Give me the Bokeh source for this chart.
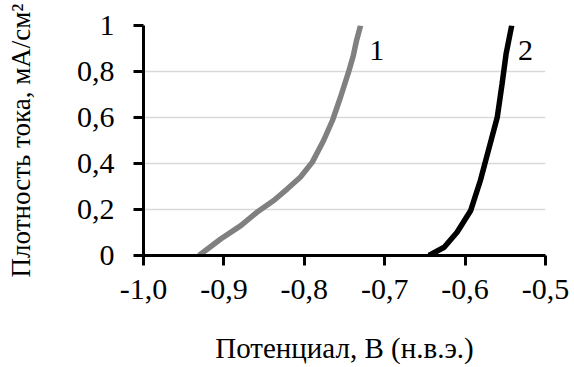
from bokeh.plotting import figure
from bokeh.models import FixedTicker, Range1d, Label
from bokeh.embed import file_html
from bokeh.resources import INLINE

# Curve 1 (grey)
v1 = [-0.931, -0.904, -0.879, -0.859, -0.838, -0.821, -0.805, -0.790, -0.776, -0.765, -0.755, -0.745, -0.739, -0.735, -0.730]
j1 = [0.0, 0.072, 0.130, 0.188, 0.239, 0.290, 0.340, 0.406, 0.500, 0.587, 0.688, 0.797, 0.870, 0.935, 1.0]
# Curve 2 (black)
v2 = [-0.645, -0.626, -0.610, -0.593, -0.581, -0.571, -0.560, -0.554, -0.549, -0.542]
j2 = [0.0, 0.036, 0.101, 0.196, 0.326, 0.457, 0.601, 0.746, 0.877, 1.0]

x_ticks = [-1.0, -0.9, -0.8, -0.7, -0.6, -0.5]
x_tick_labels = ["-1,0", "-0,9", "-0,8", "-0,7", "-0,6", "-0,5"]
y_ticks = [0.0, 0.2, 0.4, 0.6, 0.8, 1.0]
y_tick_labels = ["0", "0,2", "0,4", "0,6", "0,8", "1"]

curve_labels = ["1", "2"]
curve_label_x = [-0.71, -0.525]
curve_label_y = [0.89, 0.89]

x_title = "Потенциал, В (н.в.э.)"
y_title = "Плотность тока, мА/см²"

FONT = "Liberation Serif"

p = figure(width=574, height=367, output_backend="svg", toolbar_location=None,
           x_range=Range1d(-1.0, -0.5), y_range=Range1d(0, 1))
p.min_border_left = 143
p.min_border_right = 29
p.min_border_top = 25
p.min_border_bottom = 112
p.outline_line_color = None
p.background_fill_color = "white"
p.border_fill_color = "white"

p.xgrid.grid_line_color = None
p.ygrid.grid_line_color = "#d9d9d9"
p.ygrid.grid_line_width = 1.5

p.xaxis.ticker = FixedTicker(ticks=x_ticks)
p.yaxis.ticker = FixedTicker(ticks=y_ticks)
p.xaxis.major_label_overrides = dict(zip(x_ticks, x_tick_labels))
p.yaxis.major_label_overrides = dict(zip(y_ticks, y_tick_labels))

for ax in (p.xaxis, p.yaxis):
    ax.axis_line_width = 3
    ax.axis_line_color = "black"
    ax.major_tick_line_width = 3
    ax.major_tick_line_color = "black"
    ax.major_tick_in = 0
    ax.major_tick_out = 10
    ax.minor_tick_line_color = None
    ax.major_label_text_font = FONT
    ax.major_label_text_font_size = "30px"
    ax.major_label_text_color = "black"
    ax.axis_label_text_font = FONT
    ax.axis_label_text_font_style = "normal"
    ax.axis_label_text_color = "black"

p.xaxis.axis_label_text_font_size = "29px"
p.yaxis.axis_label_text_font_size = "27px"
p.xaxis.axis_label = x_title
p.yaxis.axis_label = y_title
p.xaxis.major_label_standoff = 14
p.yaxis.major_label_standoff = 19
p.xaxis.axis_label_standoff = 30
p.yaxis.axis_label_standoff = 38

p.line(v1, j1, line_color="#808080", line_width=5.5)
p.line(v2, j2, line_color="black", line_width=5.5)

for t, x, y in zip(curve_labels, curve_label_x, curve_label_y):
    p.add_layout(Label(x=x, y=y, text=t, text_font=FONT, text_font_size="30px",
                       text_align="center", text_baseline="middle", text_color="black"))

open("out.html", "w").write(file_html(p, INLINE))
